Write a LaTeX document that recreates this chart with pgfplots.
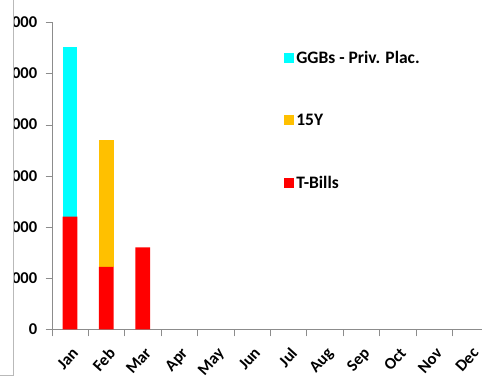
\documentclass[border=0pt]{standalone}
\usepackage{fontspec}
\setmainfont{Carlito}
\usepackage{pgfplots}
\pgfplotsset{compat=1.18}
\definecolor{ggb}{HTML}{00FFFF}
\definecolor{fifteen}{HTML}{FFC000}
\definecolor{tbill}{HTML}{FF0000}
\definecolor{axgray}{HTML}{8C8C8C}

\begin{document}
\begin{tikzpicture}
\path[use as bounding box] (0,0) rectangle (482pt,379pt);
\begin{scope}
\clip (13.5pt,0) rectangle (482pt,379pt);
\begin{axis}[
  at={(51.7pt,49.7pt)}, anchor=south west,
  scale only axis, width=436.8pt, height=307pt,
  xmin=-0.5, xmax=11.5, ymin=0, ymax=6000,
  ybar stacked, bar width=14.7pt,
  axis lines*=left, axis line style={axgray, -},
  xtick={0,...,11},
  xticklabels={Jan,Feb,Mar,Apr,May,Jun,Jul,Aug,Sep,Oct,Nov,Dec},
  minor xtick={-0.5,0.5,...,11.5},
  major x tick style={draw=none},
  minor x tick style={axgray},
  tick align=outside,
  major tick length=6pt, minor tick length=7pt,
  ytick={0,1000,...,6000},
  y tick style={axgray},
  scaled y ticks=false,
  yticklabel style={font=\fontsize{16.5}{18}\selectfont\bfseries, xshift=-5pt,
    /pgf/number format/assume math mode=true,
    /pgf/number format/set thousands separator={}},
  xticklabel style={font=\fontsize{16.5}{19}\selectfont\bfseries, rotate=48,
    anchor=north east, xshift=-4pt, yshift=-5pt},
  legend image code/.code={\fill[#1] (0pt,-5pt) rectangle (10pt,5pt);},
  legend style={at={(0.532,0.913)}, anchor=north west, draw=none, fill=none,
    font=\fontsize{17.5}{20}\selectfont\bfseries, row sep=45pt,
    cells={anchor=west}, inner sep=0pt},
  reverse legend,
]
\addplot[fill=tbill, draw=none] coordinates {(0,2200) (1,1220) (2,1600)};
\addlegendentry{T-Bills}
\addplot[fill=fifteen, draw=none] coordinates {(0,0) (1,2480) (2,0)};
\addlegendentry{15Y}
\addplot[fill=ggb, draw=none] coordinates {(0,3320) (1,0) (2,0)};
\addlegendentry{GGBs - Priv. Plac.}
\end{axis}
\end{scope}
\draw[gray!55, line width=0.8pt] (13.3pt,379pt) -- (13.3pt,3.3pt) -- (0,3.3pt);
\end{tikzpicture}
\end{document}
